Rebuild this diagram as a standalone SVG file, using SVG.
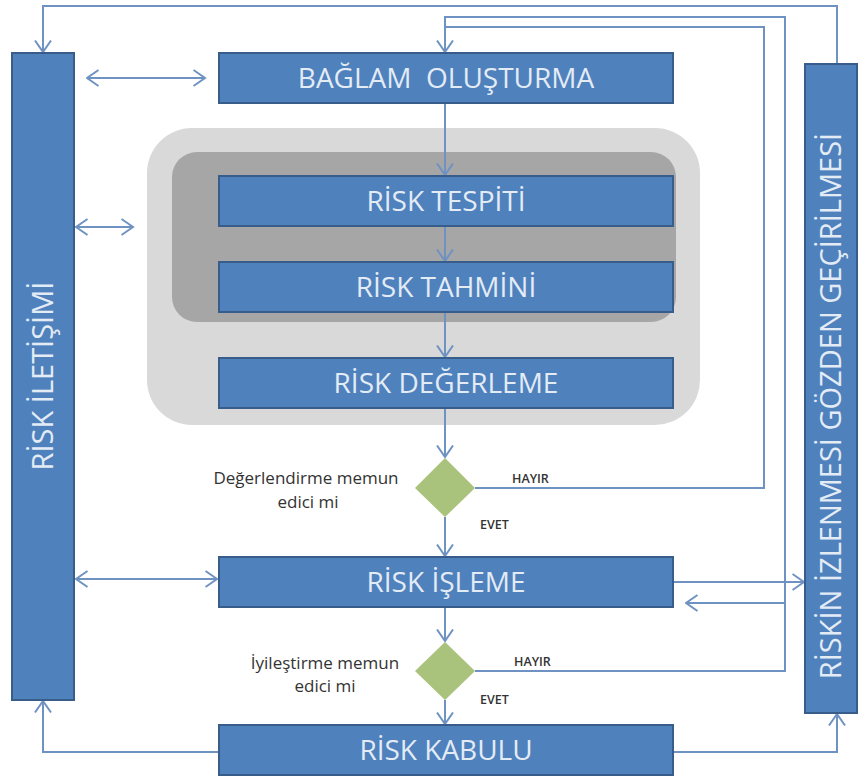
<svg xmlns="http://www.w3.org/2000/svg" width="861" height="778" viewBox="0 0 861 778">
  <defs>
    <style>
      .box { fill: #4f81bd; stroke: #385d8a; stroke-width: 2; }
      .boxtxt { font-family: "Open Sans", "Noto Sans", "DejaVu Sans", sans-serif; font-size: 28px; fill: #e3ebf5; text-anchor: middle; }
      .vtxt { font-family: "Open Sans", "Noto Sans", "DejaVu Sans", sans-serif; font-size: 29px; fill: #e3ebf5; text-anchor: middle; }
      .lbl { font-family: "Open Sans", "Noto Sans", "DejaVu Sans", sans-serif; font-size: 17px; fill: #333333; text-anchor: middle; }
      .yn { font-family: "Open Sans", "Noto Sans", "DejaVu Sans", sans-serif; font-size: 12.5px; font-weight: 600; fill: #333333; }
      .dia { fill: #a9c37c; }
      .ln { fill: none; stroke: #6e92c2; stroke-width: 2; }
      .arr { marker-end: url(#head); }
      .dbl { marker-start: url(#head); marker-end: url(#head); }
    </style>
    <marker id="head" viewBox="0 0 14 18" refX="12.5" refY="9" markerWidth="14" markerHeight="18" markerUnits="userSpaceOnUse" orient="auto-start-reverse">
      <path d="M1,1 L12.5,9 L1,17" fill="none" stroke="#6e92c2" stroke-width="2"/>
    </marker>
  </defs>

  <rect width="861" height="778" fill="#ffffff"/>

  <!-- assessment panels -->
  <g id="assessment-outer">
    <rect x="147" y="128" width="553" height="297" rx="45" ry="45" fill="#d9d9d9"/>
  </g>
  <g id="assessment-inner">
    <rect x="172" y="152" width="504" height="170" rx="25" ry="25" fill="#a6a6a6"/>
  </g>

  <!-- connectors -->
  <g id="connectors">
    <!-- main vertical flow -->
    <path class="ln arr" d="M445,103 V175"/>
    <path class="ln arr" d="M445,226 V261"/>
    <path class="ln arr" d="M445,312 V357"/>
    <path class="ln arr" d="M445,408 V457"/>
    <path class="ln arr" d="M445,517 V556"/>
    <path class="ln arr" d="M445,607 V641"/>
    <path class="ln arr" d="M445,700 V724"/>

    <!-- feedback loops -->
    <path class="ln arr" d="M837,64 V6 H43 V52"/>
    <path class="ln arr" d="M475,671 H785 V17 H445 V52"/>
    <path class="ln" d="M475,488 H764 V27 H445"/>
    <path class="ln arr" d="M785,603 H686"/>
    <path class="ln arr" d="M673,582 H804"/>
    <path class="ln arr" d="M673,752 H837 V714"/>
    <path class="ln arr" d="M219,752 H43 V701"/>

    <!-- communication links -->
    <path class="ln dbl" d="M87,78 H205"/>
    <path class="ln dbl" d="M76,227 H133"/>
    <path class="ln dbl" d="M76,579 H217"/>
  </g>

  <!-- side bars -->
  <g id="risk-iletisimi">
    <rect class="box" x="12" y="53" width="62" height="647"/>
    <text class="vtxt" transform="translate(53,376) rotate(-90)">RİSK İLETİŞİMİ</text>
  </g>
  <g id="risk-izleme">
    <rect class="box" x="805" y="64" width="52" height="649"/>
    <text class="vtxt" transform="translate(841,406) rotate(-90)">RİSKİN İZLENMESİ GÖZDEN GEÇİRİLMESİ</text>
  </g>

  <!-- process steps -->
  <g id="baglam">
    <rect class="box" x="219" y="53" width="454" height="50"/>
    <text class="boxtxt" x="446" y="88" xml:space="preserve">BAĞLAM  OLUŞTURMA</text>
  </g>
  <g id="tespit">
    <rect class="box" x="219" y="176" width="454" height="50"/>
    <text class="boxtxt" x="446" y="211">RİSK TESPİTİ</text>
  </g>
  <g id="tahmin">
    <rect class="box" x="219" y="262" width="454" height="50"/>
    <text class="boxtxt" x="446" y="297">RİSK TAHMİNİ</text>
  </g>
  <g id="degerleme">
    <rect class="box" x="219" y="358" width="454" height="50"/>
    <text class="boxtxt" x="446" y="393">RİSK DEĞERLEME</text>
  </g>

  <g id="karar-1">
    <polygon class="dia" points="445,458 475,488 445,517 415,488"/>
    <text class="lbl" x="306" y="484">Değerlendirme memun</text>
    <text class="lbl" x="308" y="508">edici mi</text>
    <text class="yn" x="512" y="483">HAYIR</text>
    <text class="yn" x="480" y="529">EVET</text>
  </g>

  <g id="isleme">
    <rect class="box" x="219" y="557" width="454" height="50"/>
    <text class="boxtxt" x="446" y="592">RİSK İŞLEME</text>
  </g>

  <g id="karar-2">
    <polygon class="dia" points="445,642 475,671 445,700 415,671"/>
    <text class="lbl" x="325" y="669">İyileştirme memun</text>
    <text class="lbl" x="325" y="692">edici mi</text>
    <text class="yn" x="514" y="666">HAYIR</text>
    <text class="yn" x="480" y="704">EVET</text>
  </g>

  <g id="kabul">
    <rect class="box" x="219" y="725" width="454" height="50"/>
    <text class="boxtxt" x="446" y="760">RİSK KABULU</text>
  </g>
</svg>
